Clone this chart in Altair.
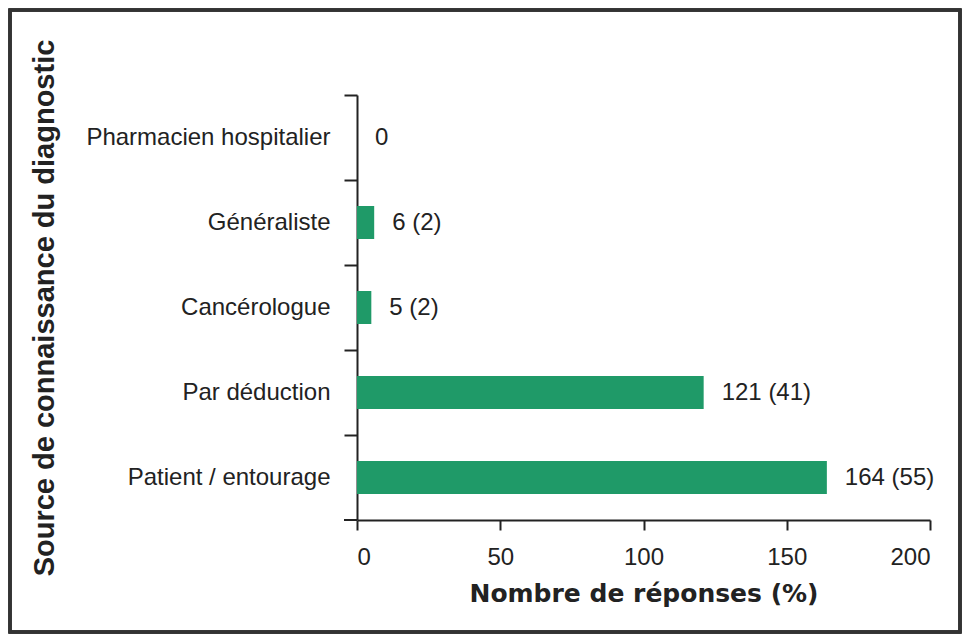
import altair as alt
import pandas as pd

categories = ["Pharmacien hospitalier", "Généraliste", "Cancérologue", "Par déduction", "Patient / entourage"]
counts = [0, 6, 5, 121, 164]
percents = [0, 2, 2, 41, 55]
labels = ["0", "6 (2)", "5 (2)", "121 (41)", "164 (55)"]
x_ticks = [0, 50, 100, 150, 200]

df = pd.DataFrame({"cat": categories, "n": counts, "pct": percents, "label": labels})

W, H = 573, 425
GREEN = "#1f9a68"
INK = "#222222"

y_enc = alt.Y(
    "cat:N",
    sort=categories,
    scale=alt.Scale(paddingInner=0, paddingOuter=0),
    axis=alt.Axis(
        title="Source de connaissance du diagnostic",
        titleFont="Liberation Sans",
        titleFontSize=29,
        titleFontWeight="bold",
        titleColor=INK,
        titleBaseline="alphabetic",
        titleX=-304,
        titleY=H / 2,
        titleAngle=270,
        labelFont="Liberation Sans",
        labelFontSize=24,
        labelColor=INK,
        labelPadding=14,
        labelLimit=0,
        tickSize=13,
        tickWidth=2,
        tickColor=INK,
        domainWidth=2,
        domainColor=INK,
        bandPosition=0,
        grid=False,
    ),
)

x_enc = alt.X(
    "n:Q",
    scale=alt.Scale(domain=[0, 200], nice=False),
    axis=alt.Axis(
        values=x_ticks,
        title="Nombre de réponses (%)",
        titleFont="DejaVu Sans",
        titleFontSize=25,
        titleFontWeight="bold",
        titleColor=INK,
        titlePadding=12,
        labelFont="Liberation Sans",
        labelFontSize=24,
        labelColor=INK,
        labelPadding=15,
        tickSize=10,
        tickWidth=2,
        tickColor=INK,
        domainWidth=2,
        domainColor=INK,
        grid=False,
    ),
)

bars = alt.Chart(df).mark_bar(color=GREEN, size=33).encode(x=x_enc, y=y_enc)

text = alt.Chart(df).mark_text(
    align="left", baseline="middle", dx=18, font="Liberation Sans", fontSize=24, color=INK
).encode(x="n:Q", y=alt.Y("cat:N", sort=categories), text="label:N")

corner = alt.Chart(df).mark_rule(color=INK, strokeWidth=2).encode(
    x=alt.value(-13), x2=alt.value(0), y=alt.value(H)
)

frame = alt.Chart(df).mark_rect(
    fill=None, fillOpacity=0, stroke="#333333", strokeWidth=3
).encode(
    x=alt.value(-347), x2=alt.value(603), y=alt.value(-85), y2=alt.value(537)
)

chart = (
    alt.layer(bars, text, corner, frame)
    .properties(
        width=W,
        height=H,
        autosize=alt.AutoSizeParams(type="none"),
        padding={"left": 349, "top": 87, "right": 32, "bottom": 114},
        background="white",
    )
    .configure_view(stroke=None)
)

chart.save("out.html", embed_options={"renderer": "svg", "actions": False})
